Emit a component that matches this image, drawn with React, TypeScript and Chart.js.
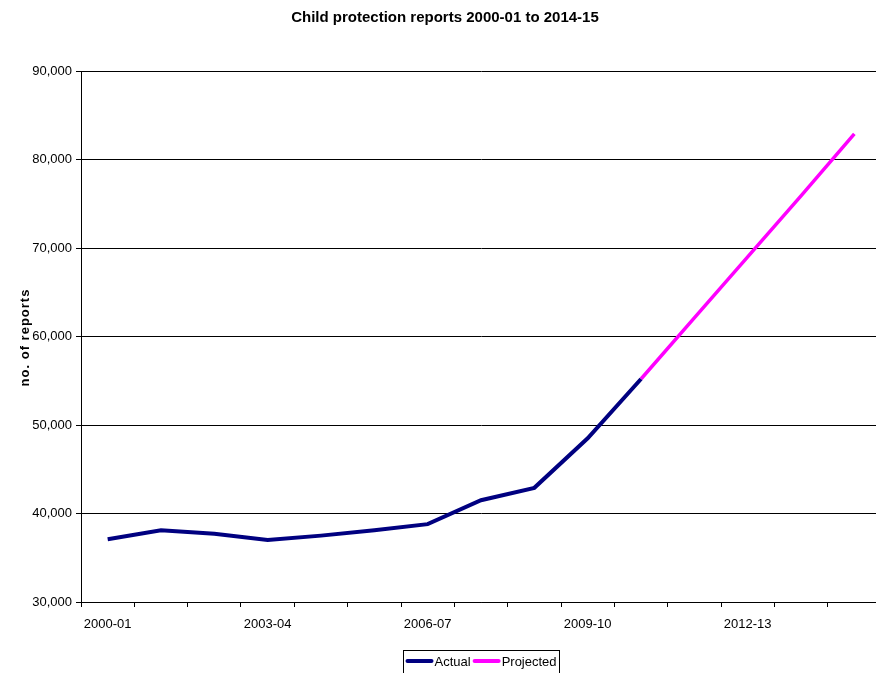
import React, { useEffect, useRef } from "react";
import { Chart, registerables } from "chart.js";

Chart.register(...registerables);

const chartTitle = "Child protection reports 2000-01 to 2014-15";
const yAxisTitle = "no. of reports";
const categories = [
  "2000-01", "2001-02", "2002-03", "2003-04", "2004-05",
  "2005-06", "2006-07", "2007-08", "2008-09", "2009-10",
  "2010-11", "2011-12", "2012-13", "2013-14", "2014-15",
];
const shownTickLabels = ["2000-01", "2003-04", "2006-07", "2009-10", "2012-13"];
const actualValues = [37100, 38100, 37700, 37000, 37500, 38100, 38800, 41500, 42900, 48500, 55200, null, null, null, null];
const projectedValues = [null, null, null, null, null, null, null, null, null, null, 55200, 62100, 69000, 75900, 82900];
const yMin = 30000;
const yMax = 90000;
const yStep = 10000;

const FONT = "'Liberation Sans', Arial, sans-serif";

const titlePlugin = {
  id: "customTitle",
  afterDraw(chart: any) {
    const ctx = chart.ctx;
    ctx.save();
    ctx.font = `bold 15px ${FONT}`;
    ctx.fillStyle = "#000";
    ctx.textAlign = "center";
    ctx.textBaseline = "middle";
    ctx.fillText(chartTitle, 445, 18);
    ctx.restore();
  },
};

const yTitlePlugin = {
  id: "customYTitle",
  afterDraw(chart: any) {
    const ctx = chart.ctx;
    const a = chart.chartArea;
    ctx.save();
    ctx.translate(25, (a.top + a.bottom) / 2 + 1);
    ctx.rotate(-Math.PI / 2);
    (ctx as any).letterSpacing = "1px";
    ctx.font = `bold 13px ${FONT}`;
    ctx.fillStyle = "#000";
    ctx.textAlign = "center";
    ctx.textBaseline = "middle";
    ctx.fillText(yAxisTitle, 0, 0);
    ctx.restore();
  },
};

const legendPlugin = {
  id: "customLegend",
  afterDraw(chart: any) {
    const ctx = chart.ctx;
    const a = chart.chartArea;
    const ds = chart.data.datasets;
    ctx.save();
    ctx.font = `13px ${FONT}`;
    const lineW = 26;
    const widths = ds.map((d: any) => ctx.measureText(d.label).width);
    let total = 3;
    ds.forEach((d: any, i: number) => {
      total += lineW + 2 + widths[i] + 3;
    });
    const cx = (a.left + a.right) / 2;
    const left = Math.round(cx - total / 2) + 0.5;
    const top = 650.5;
    ctx.strokeStyle = "#000";
    ctx.lineWidth = 1;
    ctx.strokeRect(left, top, Math.round(total), 30);
    let x = left + 3;
    const y = 661;
    ds.forEach((d: any, i: number) => {
      ctx.strokeStyle = d.borderColor;
      ctx.lineWidth = 4;
      ctx.lineCap = "round";
      ctx.beginPath();
      ctx.moveTo(x + 1, y);
      ctx.lineTo(x + lineW - 1, y);
      ctx.stroke();
      x += lineW + 2;
      ctx.fillStyle = "#000";
      ctx.textAlign = "left";
      ctx.textBaseline = "middle";
      ctx.fillText(d.label, x, y + 1);
      x += widths[i] + 3;
    });
    ctx.restore();
  },
};

export default function App() {
  const ref = useRef<HTMLCanvasElement | null>(null);
  useEffect(() => {
    if (!ref.current) return;
    const chart = new Chart(ref.current, {
      type: "line",
      data: {
        labels: categories,
        datasets: [
          {
            label: "Actual",
            data: actualValues,
            borderColor: "#000080",
            backgroundColor: "#000080",
            borderWidth: 4,
            pointRadius: 0,
            tension: 0,
            spanGaps: false,
          },
          {
            label: "Projected",
            data: projectedValues,
            borderColor: "#FF00FF",
            backgroundColor: "#FF00FF",
            borderWidth: 3.5,
            pointRadius: 0,
            tension: 0,
            spanGaps: false,
          },
        ],
      },
      options: {
        responsive: false,
        animation: false,
        layout: { padding: { top: 71, left: 0, right: 0, bottom: 0 } },
        plugins: {
          legend: { display: false },
          title: { display: false },
          tooltip: { enabled: false },
        },
        scales: {
          x: {
            offset: true,
            grid: {
              offset: true,
              drawOnChartArea: false,
              drawTicks: true,
              tickLength: 5,
              color: "#000",
            },
            border: { color: "#000", width: 1 },
            ticks: {
              autoSkip: false,
              maxRotation: 0,
              minRotation: 0,
              padding: 10,
              color: "#000",
              font: { family: FONT, size: 13 },
              callback: (_v: any, i: number) =>
                shownTickLabels.includes(categories[i]) ? categories[i] : "",
            },
            afterFit: (s: any) => {
              s.height = 71;
            },
          },
          y: {
            min: yMin,
            max: yMax,
            grid: { color: "#000", tickLength: 5, lineWidth: 1 },
            border: { color: "#000", width: 1 },
            ticks: {
              stepSize: yStep,
              padding: 4,
              color: "#000",
              font: { family: FONT, size: 13 },
              callback: (v: any) => Number(v).toLocaleString("en-US"),
            },
            afterFit: (s: any) => {
              s.width = 81;
            },
          },
        },
      },
      plugins: [titlePlugin, yTitlePlugin, legendPlugin],
    });
    return () => chart.destroy();
  }, []);
  return (
    <div style={{ position: "absolute", left: 0, top: 0, width: 876, height: 673, overflow: "hidden", background: "#fff" }}>
      <canvas ref={ref} width={881} height={673} style={{ display: "block" }} />
    </div>
  );
}
